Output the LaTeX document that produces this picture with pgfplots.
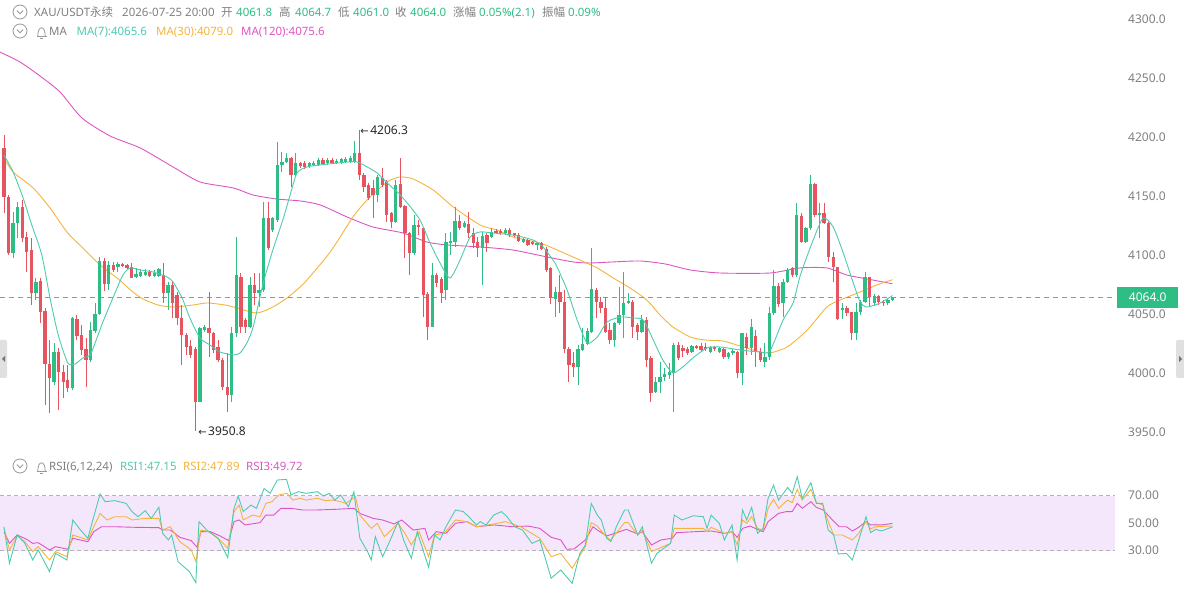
\documentclass[border=0pt]{standalone}
\usepackage{pgfplots}
\pgfplotsset{compat=1.18}
\usepackage{pgfplotstable}
\usepackage{fontspec}
\setmainfont{Noto Sans}
\newfontfamily\cjk{Noto Sans CJK SC}
\newfontfamily\dejavu{DejaVu Sans}
\definecolor{cgreen}{HTML}{2EBD85}
\definecolor{cred}{HTML}{E5545F}
\definecolor{ma7}{HTML}{4DCBB0}
\definecolor{ma30}{HTML}{F5B43A}
\definecolor{ma120}{HTML}{DE55C2}
\definecolor{txtgray}{HTML}{7F7F7F}
\definecolor{band}{HTML}{F4E7FB}
\definecolor{dashc}{HTML}{3FBF9A}
\newcommand{\hf}{\fontsize{11.5}{13}\selectfont}

\pgfplotstableread{
i o h l c
0 4191.0 4201.7 4135.3 4149.5
1 4149.5 4150.9 4100.0 4101.4
2 4101.4 4136.7 4097.2 4126.9
3 4126.9 4145.2 4114.2 4141.0
4 4141.0 4146.6 4111.3 4114.2
5 4115.6 4119.8 4085.9 4102.9
6 4104.3 4114.2 4057.7 4067.5
7 4067.5 4080.2 4061.9 4077.4
8 4078.0 4080.2 4042.1 4052.0
9 4052.6 4054.8 3972.9 4007.4
10 4007.4 4028.0 3965.8 3995.5
11 3992.7 4025.2 3989.9 4018.1
12 4018.1 4020.9 3968.7 4001.1
13 4001.1 4006.8 3978.6 3992.7
14 3994.1 4006.8 3984.2 3987.0
15 3987.0 4047.8 3985.6 4046.9
16 4045.8 4049.2 4028.0 4031.7
17 4032.2 4040.7 4015.3 4019.5
18 4020.4 4029.4 3988.4 4011.0
19 4011.0 4043.5 4009.6 4036.5
20 4035.6 4059.1 4033.6 4049.7
21 4049.7 4098.6 4049.2 4094.9
22 4094.9 4097.2 4069.5 4075.2
23 4075.2 4094.9 4070.4 4091.6
24 4091.6 4094.4 4085.9 4087.3
25 4090.1 4093.8 4085.9 4092.1
26 4092.1 4093.2 4090.1 4091.0
27 4091.6 4092.7 4088.2 4089.3
28 4090.1 4093.0 4080.2 4080.8
29 4081.7 4088.7 4080.8 4083.6
30 4082.5 4088.2 4081.7 4085.9
31 4083.1 4087.9 4082.5 4085.9
32 4085.9 4087.6 4081.7 4082.5
33 4082.5 4087.0 4081.7 4084.5
34 4082.5 4088.7 4081.7 4087.9
35 4083.1 4093.0 4059.1 4067.5
36 4067.5 4077.4 4053.4 4074.6
37 4074.6 4077.4 4046.4 4059.1
38 4066.1 4068.9 4040.7 4046.4
39 4046.4 4057.7 4006.8 4032.2
40 4032.2 4033.6 4015.3 4022.3
41 4023.2 4028.0 4012.5 4015.3
42 4020.4 4022.3 3950.8 3975.7
43 3975.7 4039.3 3975.1 4037.8
44 4036.4 4040.7 4035.0 4039.3
45 4037.8 4068.9 4013.8 4033.6
46 4033.6 4035.0 4016.6 4019.5
47 4022.3 4027.9 4009.6 4011.0
48 4011.0 4012.4 3985.6 3988.4
49 3988.4 4016.6 3967.2 3981.3
50 3981.3 4039.3 3975.7 4033.6
51 4033.6 4115.5 4030.8 4083.0
52 4081.6 4084.5 4033.6 4039.3
53 4044.9 4046.3 4033.6 4039.3
54 4039.3 4081.6 4037.8 4074.6
55 4074.6 4084.5 4057.6 4067.5
56 4067.5 4084.5 4056.2 4070.3
57 4070.3 4145.2 4068.9 4131.1
58 4131.1 4145.2 4104.2 4105.6
59 4121.2 4132.5 4119.8 4131.1
60 4129.7 4196.0 4128.3 4176.3
61 4176.3 4187.6 4170.6 4179.1
62 4179.1 4186.2 4177.7 4181.9
63 4181.9 4183.3 4157.9 4167.8
64 4167.8 4186.2 4166.4 4177.7
65 4177.7 4179.0 4174.0 4175.7
66 4177.7 4180.0 4173.0 4174.9
67 4175.7 4179.0 4174.0 4177.7
68 4176.3 4180.0 4175.0 4178.2
69 4176.3 4182.0 4175.0 4180.5
70 4180.5 4182.0 4176.0 4177.1
71 4177.7 4182.0 4176.0 4180.5
72 4180.5 4182.0 4177.0 4178.2
73 4178.2 4181.0 4177.0 4179.9
74 4178.2 4182.5 4177.0 4181.1
75 4179.1 4183.0 4178.0 4181.1
76 4179.1 4184.0 4178.0 4181.9
77 4179.1 4197.0 4178.0 4186.7
78 4186.7 4206.3 4163.6 4167.8
79 4167.8 4169.2 4153.7 4157.9
80 4159.3 4160.7 4146.6 4148.0
81 4156.5 4163.6 4131.1 4150.8
82 4150.8 4167.8 4145.2 4166.4
83 4165.0 4173.4 4157.9 4159.3
84 4162.1 4163.6 4128.3 4133.9
85 4135.3 4136.7 4122.6 4128.3
86 4128.3 4163.6 4126.8 4159.3
87 4160.2 4181.9 4139.5 4140.9
88 4141.5 4142.4 4097.2 4118.4
89 4118.4 4119.8 4083.0 4101.4
90 4101.4 4133.9 4100.0 4125.4
91 4125.4 4129.7 4116.9 4123.4
92 4122.6 4124.0 4047.7 4066.1
93 4066.9 4068.9 4028.0 4039.3
94 4039.3 4092.9 4038.7 4083.0
95 4083.0 4084.5 4073.1 4076.0
96 4079.4 4081.6 4059.0 4067.5
97 4070.3 4118.4 4061.9 4111.3
98 4109.9 4119.8 4100.0 4112.1
99 4111.3 4141.0 4107.1 4129.1
100 4129.1 4133.9 4121.2 4122.6
101 4124.0 4129.1 4122.6 4127.4
102 4126.3 4136.7 4114.1 4118.4
103 4118.4 4122.6 4105.6 4110.4
104 4111.3 4115.5 4098.6 4105.6
105 4105.6 4119.8 4074.6 4116.1
106 4116.9 4118.4 4102.8 4110.4
107 4115.5 4122.6 4114.1 4119.8
108 4120.6 4121.7 4117.8 4118.9
109 4120.3 4121.7 4117.2 4118.4
110 4118.4 4122.6 4117.2 4121.2
111 4121.2 4122.6 4115.5 4116.9
112 4118.4 4118.9 4115.0 4116.1
113 4116.9 4118.4 4111.3 4112.1
114 4111.3 4114.1 4109.9 4113.3
115 4112.7 4113.3 4107.6 4108.5
116 4110.7 4112.1 4108.2 4109.0
117 4108.5 4111.3 4104.2 4110.4
118 4109.9 4111.3 4104.2 4104.8
119 4104.8 4107.1 4085.9 4087.3
120 4088.7 4090.1 4058.5 4063.3
121 4062.4 4072.6 4047.7 4068.9
122 4068.9 4083.0 4050.6 4060.4
123 4060.4 4070.3 4016.6 4020.0
124 4020.0 4022.3 3992.6 4006.8
125 4008.2 4018.1 3996.9 4005.4
126 4005.4 4023.7 3989.8 4020.0
127 4019.5 4037.8 4018.9 4024.6
128 4024.6 4037.8 4023.7 4035.9
129 4035.0 4105.6 4033.6 4070.9
130 4070.3 4071.7 4046.3 4060.4
131 4060.4 4064.1 4050.6 4054.8
132 4054.8 4064.1 4033.6 4035.0
133 4036.4 4042.1 4024.6 4027.9
134 4027.9 4043.5 4022.3 4042.1
135 4042.1 4073.1 4040.7 4049.1
136 4049.1 4085.9 4029.4 4059.6
137 4059.0 4068.1 4058.5 4061.3
138 4060.4 4061.9 4029.4 4039.3
139 4040.7 4042.1 4027.9 4035.0
140 4035.0 4049.1 4033.6 4044.9
141 4044.9 4047.7 4005.4 4011.0
142 4012.4 4014.0 3975.7 3982.8
143 3984.2 3996.9 3982.8 3992.7
144 3992.7 4009.6 3982.8 3996.9
145 3996.9 4004.0 3993.0 3999.2
146 3998.3 4008.2 3995.0 4001.1
147 3999.7 4025.1 3967.2 4023.7
148 4023.7 4026.5 4011.0 4012.4
149 4020.9 4023.7 4013.8 4018.9
150 4020.1 4022.0 4015.0 4017.2
151 4018.1 4024.0 4017.0 4022.9
152 4022.9 4024.0 4020.0 4021.8
153 4022.9 4025.7 4018.1 4019.5
154 4022.3 4025.7 4019.0 4020.1
155 4018.1 4023.0 4017.0 4022.3
156 4022.3 4023.0 4019.0 4020.1
157 4018.0 4022.0 4017.0 4020.9
158 4020.1 4021.0 4012.0 4013.8
159 4013.8 4018.0 4012.0 4017.2
160 4016.6 4020.0 4015.0 4018.9
161 4018.1 4019.0 3995.5 3999.7
162 3999.7 4034.0 3989.9 4033.6
163 4030.8 4033.6 4015.3 4020.9
164 4020.9 4045.5 4015.3 4039.3
165 4031.4 4036.4 4005.4 4018.1
166 4018.1 4020.9 4009.6 4011.0
167 4009.6 4025.1 4005.4 4013.8
168 4013.8 4056.2 4011.0 4050.6
169 4050.6 4087.3 4049.2 4073.7
170 4073.7 4076.0 4056.0 4058.5
171 4059.0 4080.0 4047.7 4077.4
172 4077.4 4088.7 4076.0 4087.3
173 4088.7 4090.1 4081.6 4083.0
174 4083.0 4143.8 4081.6 4133.9
175 4133.0 4135.9 4109.9 4111.3
176 4111.3 4124.0 4109.9 4122.6
177 4122.6 4167.8 4121.2 4160.2
178 4160.2 4160.7 4132.5 4133.9
179 4133.9 4143.8 4114.1 4135.9
180 4135.9 4143.8 4126.0 4126.8
181 4126.8 4128.3 4094.3 4098.6
182 4098.6 4102.8 4077.4 4089.5
183 4089.5 4090.1 4044.9 4045.5
184 4053.4 4059.0 4046.0 4054.8
185 4054.8 4057.0 4048.0 4051.1
186 4051.9 4052.0 4027.9 4033.6
187 4033.6 4059.0 4027.9 4051.9
188 4051.9 4061.9 4049.1 4060.4
189 4060.4 4085.9 4059.0 4081.1
190 4081.1 4081.6 4056.2 4064.7
191 4059.0 4067.0 4057.0 4065.3
192 4065.3 4066.0 4058.0 4060.4
193 4060.4 4062.0 4057.0 4059.6
194 4059.0 4063.0 4058.0 4061.9
195 4061.8 4064.7 4061.0 4064.0
}\candles

\pgfplotstableread{
i v
0 4184.7
2.0 4170.3
4.2 4148.3
6.1 4125.4
8.3 4100.0
10.1 4063.5
11.9 4032.2
14.0 4008.5
15.6 4007.6
17.3 4012.7
18.9 4015.2
20.4 4029.6
21.7 4043.2
23.9 4063.5
26.1 4083.0
27.7 4089.0
29.9 4087.3
32.7 4085.6
35.8 4081.3
37.1 4077.1
39.1 4063.5
40.8 4046.6
43.0 4029.6
45.2 4023.7
47.4 4017.8
50.3 4015.2
51.8 4016.9
53.3 4025.4
54.7 4039.0
56.8 4074.6
59.0 4104.2
61.2 4129.7
62.8 4150.8
64.3 4169.5
66.5 4174.6
69.4 4176.3
75.3 4178.8
77.5 4178.8
79.7 4174.6
81.9 4169.5
84.1 4161.0
86.3 4153.4
88.5 4144.1
91.3 4129.7
93.5 4110.2
95.7 4093.2
97.9 4080.5
100.1 4095.7
102.3 4115.2
104.5 4119.5
107.3 4118.6
111.7 4116.9
116.1 4112.7
118.3 4106.8
120.5 4095.7
121.4 4089.8
123.6 4070.3
125.8 4044.9
128.0 4025.4
130.2 4030.5
132.4 4043.2
135.3 4047.4
138.1 4046.6
140.3 4044.9
142.5 4027.9
144.6 4011.0
146.8 4000.0
149.0 4005.1
151.2 4012.7
154.3 4021.2
157.2 4022.0
161.5 4019.5
165.9 4017.8
168.1 4018.6
171.0 4044.9
173.2 4059.3
174.8 4083.0
177.6 4112.7
179.8 4131.3
182.0 4123.7
184.2 4101.7
186.4 4076.3
187.9 4060.2
189.4 4055.9
192.3 4059.3
195.0 4065.6
}\maseven

\pgfplotstableread{
i v
0 4182.2
2.0 4170.3
6.4 4156.8
10.1 4139.8
13.8 4119.5
17.3 4105.9
21.1 4091.5
24.8 4080.5
28.3 4068.6
30.5 4062.7
33.8 4057.6
37.1 4055.9
41.5 4057.6
44.6 4059.3
48.5 4057.6
51.1 4055.1
55.5 4050.8
59.0 4055.9
62.1 4063.5
65.0 4072.9
66.5 4078.8
71.6 4102.5
76.6 4132.2
79.7 4146.6
84.1 4161.9
86.9 4166.1
89.8 4164.4
94.2 4155.1
98.6 4140.7
104.5 4125.4
108.2 4121.2
111.7 4115.2
117.6 4110.2
121.4 4104.2
126.4 4095.7
130.2 4089.0
133.7 4080.5
137.4 4072.0
141.1 4061.8
144.0 4049.1
146.8 4039.0
150.6 4030.5
153.9 4027.9
157.8 4027.1
161.5 4022.9
165.9 4017.8
168.1 4016.9
171.9 4022.0
176.3 4036.4
180.6 4055.9
183.5 4061.8
187.9 4068.6
191.6 4074.6
195.0 4079.0
}\mathirty

\pgfplotstableread{
i v
-0.9 4272.0
3.5 4263.6
7.9 4251.7
12.3 4238.1
17.1 4216.1
23.3 4200.8
29.9 4190.7
37.1 4174.6
43.0 4161.9
50.3 4156.8
54.7 4150.8
59.9 4147.4
65.0 4145.8
69.4 4142.4
75.3 4132.2
81.0 4123.7
87.6 4118.6
92.8 4111.0
97.2 4108.5
104.5 4106.8
111.7 4104.2
119.2 4098.3
124.9 4094.1
128.6 4093.2
133.7 4094.1
139.6 4094.9
145.1 4092.4
150.6 4087.3
157.2 4084.7
168.1 4084.7
174.7 4089.0
180.6 4089.0
185.0 4083.0
189.4 4079.7
195.0 4075.6
}\maonetwenty

\pgfplotstableread{
i v
0 47.3
1.2 20.7
2.9 41.3
4.6 35.2
6.3 23.1
7.5 30.4
10.0 14.6
11.3 27.9
13.8 23.1
15.1 52.2
16.8 44.9
18.4 38.9
19.7 54.6
21.1 71.1
22.2 65.5
24.3 66.3
26.8 64.3
28.1 58.3
29.4 54.6
31.0 59.0
32.3 53.4
34.0 61.4
34.8 42.5
36.1 37.7
36.8 41.3
38.2 21.9
40.7 14.6
42.1 6.6
42.8 51.0
44.5 44.9
47.0 38.9
49.1 24.8
50.4 59.5
51.4 69.6
52.5 58.3
54.2 63.1
55.4 60.7
57.1 75.2
58.4 71.6
60.0 81.3
62.0 81.8
63.0 70.4
64.6 72.8
66.3 71.6
68.8 72.8
70.1 69.6
71.4 71.6
72.6 66.7
73.9 70.4
75.6 61.9
76.8 72.8
78.1 38.9
79.8 29.2
80.6 23.1
81.5 40.1
83.1 25.5
84.8 37.7
86.5 51.0
87.7 37.7
89.4 24.3
90.7 43.7
91.5 35.2
93.2 17.8
94.5 41.3
95.7 37.7
97.0 47.3
99.1 59.5
100.8 58.3
102.0 54.6
103.7 48.6
104.5 51.0
105.8 48.6
107.5 55.8
109.2 58.3
110.4 54.6
112.1 47.3
113.8 44.9
115.9 35.2
117.6 37.7
120.1 9.8
122.2 15.8
124.7 6.1
126.4 27.9
127.6 34.0
128.9 64.3
130.2 55.8
131.1 52.2
132.3 38.9
133.2 36.5
134.4 47.3
136.2 59.5
137.0 59.5
139.1 41.3
140.1 47.3
142.1 20.7
143.3 27.9
146.3 35.2
147.1 55.8
148.8 52.2
151.3 55.3
153.5 54.6
154.3 46.1
155.2 55.8
157.0 49.8
158.1 37.7
159.8 48.6
160.9 23.1
162.1 59.5
163.0 52.2
164.1 61.4
165.4 42.5
166.6 46.1
167.7 67.9
168.9 77.6
170.0 66.7
172.0 75.9
173.0 71.6
174.1 83.7
175.2 67.9
177.1 79.4
178.3 64.3
179.7 64.3
180.9 44.9
182.1 41.3
183.1 27.5
184.9 27.9
186.2 23.1
187.6 37.7
189.2 54.6
190.2 43.0
191.3 45.4
192.6 44.2
195.0 47.2
}\rsione

\pgfplotstableread{
i v
0 46.1
1.2 30.4
2.9 40.6
4.6 36.4
6.3 29.2
7.5 32.8
10.0 23.1
11.3 29.2
13.8 25.5
15.1 41.3
18.4 37.7
19.7 47.3
21.1 57.0
22.6 52.2
24.3 54.6
26.8 54.6
28.1 52.2
31.0 53.4
34.0 53.4
34.8 44.9
36.5 47.3
38.6 36.4
41.1 30.4
42.1 21.9
43.2 44.9
44.9 43.7
47.4 37.7
49.1 31.6
50.5 58.3
51.6 63.1
52.5 52.2
54.6 55.8
56.2 54.6
57.5 64.3
58.8 65.5
60.3 70.4
62.1 71.6
63.4 66.7
65.1 68.0
66.3 66.7
68.8 68.0
70.5 66.3
72.2 66.7
73.9 65.5
75.1 64.3
77.1 69.2
78.1 55.8
80.6 46.1
81.9 49.8
83.5 40.1
86.5 49.8
88.2 41.3
89.4 34.0
91.1 43.7
93.2 25.5
94.5 41.3
96.6 42.5
99.1 52.2
101.6 51.0
103.7 47.3
107.5 49.3
110.0 51.0
113.4 47.3
117.6 38.9
120.1 25.5
122.2 27.9
124.7 17.1
127.6 32.8
128.9 50.3
130.2 47.8
132.3 39.6
133.2 37.7
136.2 50.3
137.0 50.3
139.1 41.3
140.1 44.9
142.1 29.2
146.3 35.2
147.1 46.1
150.9 46.1
153.5 46.1
154.3 43.7
155.2 46.9
158.1 42.5
159.8 43.7
160.9 34.0
162.1 52.2
163.0 49.8
164.1 54.6
165.4 46.1
166.6 44.9
167.7 60.7
168.9 67.2
170.0 60.7
172.0 66.7
173.0 64.8
174.1 74.5
175.2 66.7
177.1 74.5
178.3 64.8
179.7 63.1
180.9 51.0
182.1 41.3
184.0 41.3
186.2 37.7
187.6 42.5
189.2 51.0
190.2 45.7
191.3 47.3
195.0 47.9
}\rsitwo

\pgfplotstableread{
i v
0 43.7
1.2 35.2
2.9 41.3
5.0 38.1
6.3 35.2
7.5 35.7
10.0 30.4
11.3 32.8
14.0 30.9
15.1 38.9
18.4 36.4
19.7 43.7
21.4 47.3
24.3 47.3
28.5 46.9
34.0 46.6
34.8 44.9
36.5 44.9
38.6 39.6
41.1 37.2
42.4 32.3
43.2 43.7
45.3 43.7
47.4 40.6
49.3 37.2
50.5 51.0
51.6 52.2
52.9 48.6
56.2 50.3
57.5 55.8
59.2 55.8
60.8 60.7
63.0 60.7
65.5 59.5
68.8 59.5
73.0 60.0
76.8 60.7
78.1 57.0
81.0 53.4
83.1 52.2
85.6 49.3
87.3 52.2
89.8 44.9
92.4 46.1
93.2 37.7
94.9 43.7
97.0 42.5
99.1 49.8
101.6 51.0
103.7 47.3
107.5 48.6
111.7 47.3
115.0 47.8
117.6 46.1
120.1 39.6
122.2 37.7
123.5 30.9
125.1 31.1
127.6 37.7
129.3 47.3
130.2 44.9
132.3 40.6
133.6 42.0
136.6 45.4
139.1 42.0
140.1 43.7
142.1 34.0
144.2 37.7
146.7 38.9
147.6 43.0
151.8 43.7
155.2 44.2
158.1 42.5
159.8 43.7
160.9 39.6
162.1 46.1
163.7 47.8
166.6 43.7
167.7 51.0
170.0 57.0
171.7 58.3
173.0 58.3
174.1 64.3
175.2 60.7
177.1 65.5
178.3 61.4
179.8 59.5
181.5 53.4
183.3 47.3
184.9 47.3
186.2 44.2
187.6 46.9
189.2 51.0
190.2 48.6
192.6 48.6
195.0 49.7
}\rsithree

\pgfplotsset{
  chartbase/.style={
    scale only axis, width=1115pt,
    xmin=-0.878, xmax=243.85,
    axis line style={draw=none}, xtick=\empty,
    major tick length=0pt, yticklabel pos=right,
    clip=false,
    yticklabel style={anchor=west, inner sep=0pt, xshift=13pt,
      font=\fontsize{12}{14}\selectfont, text=txtgray,
      /pgf/number format/fixed, /pgf/number format/fixed zerofill,
      /pgf/number format/1000 sep={}, /pgf/number format/assume math mode=true},
  },
  wick/.style={only marks, mark=text, text mark={}, forget plot,
    mark options={draw=none, fill=none, inner sep=0pt},
    /pgfplots/error bars/y dir=both, /pgfplots/error bars/y explicit,
    /pgfplots/error bars/error mark=none,
    /pgfplots/error bars/error bar style={line width=1pt, draw=#1, solid}},
  body/.style={only marks, mark=text, text mark={}, forget plot,
    mark options={draw=none, fill=none, inner sep=0pt},
    /pgfplots/error bars/y dir=both, /pgfplots/error bars/y explicit,
    /pgfplots/error bars/error mark=none,
    /pgfplots/error bars/error bar style={line width=3.3pt, draw=#1, solid}},
}

\begin{document}
\begin{tikzpicture}
% ---------- main price panel ----------
\begin{axis}[chartbase, at={(0pt,142pt)}, anchor=south west, height=450pt,
  ymin=3934.7, ymax=4316.1, ytick={3950,4000,4050,4100,4150,4200,4250,4300},
  yticklabel style={/pgf/number format/precision=1}]
  \addplot[ma120, line width=0.9pt, smooth, tension=0.4] table[x=i,y=v]{\maonetwenty};
  \addplot[ma30, line width=0.9pt, smooth, tension=0.4] table[x=i,y=v]{\mathirty};
  % last price line
  \addplot[draw=dashc, line width=1pt, dash pattern=on 5pt off 4pt] coordinates {(-0.878,4064) (243.85,4064)};
  % wicks
  \addplot[restrict expr to domain={\thisrow{c}-\thisrow{o}}{0:10000}, wick=cgreen]
    table[x=i, y expr=(\thisrow{h}+\thisrow{l})/2, y error expr=(\thisrow{h}-\thisrow{l})/2]{\candles};
  \addplot[restrict expr to domain={\thisrow{c}-\thisrow{o}}{-10000:-0.001}, wick=cred]
    table[x=i, y expr=(\thisrow{h}+\thisrow{l})/2, y error expr=(\thisrow{h}-\thisrow{l})/2]{\candles};
  % bodies
  \addplot[restrict expr to domain={\thisrow{c}-\thisrow{o}}{0:10000}, body=cgreen]
    table[x=i, y expr=(\thisrow{o}+\thisrow{c})/2, y error expr={max(abs(\thisrow{c}-\thisrow{o})/2,0.5)}]{\candles};
  \addplot[restrict expr to domain={\thisrow{c}-\thisrow{o}}{-10000:-0.001}, body=cred]
    table[x=i, y expr=(\thisrow{o}+\thisrow{c})/2, y error expr={max(abs(\thisrow{c}-\thisrow{o})/2,0.5)}]{\candles};
  \addplot[ma7, line width=0.9pt, smooth, tension=0.4] table[x=i,y=v]{\maseven};
  \node[fill=cgreen, text=white, anchor=west, minimum height=21pt, minimum width=61pt, inner sep=0pt,
        font=\fontsize{12}{14}\selectfont\bfseries, xshift=2pt] at (axis cs:243.85,4064) {4064.0};
  % extreme labels
  \node[anchor=west, inner sep=0pt, font=\fontsize{12}{14}\selectfont, text=black!85] at (axis cs:78.2,4205.9)
    {{\dejavu\fontsize{10}{11}\selectfont ←}\hspace{1.5pt}4206.3};
  \node[anchor=west, inner sep=0pt, font=\fontsize{12}{14}\selectfont, text=black!85] at (axis cs:42.6,3950.6)
    {{\dejavu\fontsize{10}{11}\selectfont ←}\hspace{1.5pt}3950.8};
\end{axis}

% ---------- RSI panel ----------
\begin{axis}[chartbase, at={(0pt,0pt)}, anchor=south west, height=137pt,
  ymin=-0.2, ymax=99.5, ytick={30,50,70},
  yticklabel style={/pgf/number format/precision=2}]
  \fill[band] (axis cs:-0.878,30) rectangle (axis cs:243.85,70);
  \draw[black!30, line width=0.8pt, dash pattern=on 4pt off 3pt] (axis cs:-0.878,70) -- (axis cs:243.85,70);
  \draw[black!30, line width=0.8pt, dash pattern=on 4pt off 3pt] (axis cs:-0.878,30) -- (axis cs:243.85,30);
  \addplot[ma120, line width=0.9pt] table[x=i,y=v]{\rsithree};
  \addplot[ma30, line width=0.9pt] table[x=i,y=v]{\rsitwo};
  \addplot[ma7, line width=0.9pt] table[x=i,y=v]{\rsione};
\end{axis}

% ---------- header texts ----------
\begin{scope}[every node/.style={anchor=base west, inner sep=0pt, font=\hf}]
  \draw[txtgray!80, line width=0.8pt] (20pt,580pt) circle (7pt);
  \draw[txtgray!80, line width=0.8pt] (16.8pt,581.5pt) -- (20pt,578.3pt) -- (23.2pt,581.5pt);
  \node[text=txtgray] at (34pt,575.8pt) {XAU/USDT{\cjk 永续}};
  \node[text=txtgray] at (122pt,575.8pt) {2026-07-25 20:00};
  \node[text=txtgray] at (221pt,575.8pt) {\cjk 开};
  \node[text=cgreen] at (236pt,575.8pt) {4061.8};
  \node[text=txtgray] at (279pt,575.8pt) {\cjk 高};
  \node[text=cgreen] at (295pt,575.8pt) {4064.7};
  \node[text=txtgray] at (338pt,575.8pt) {\cjk 低};
  \node[text=cgreen] at (353pt,575.8pt) {4061.0};
  \node[text=txtgray] at (395pt,575.8pt) {\cjk 收};
  \node[text=cgreen] at (410pt,575.8pt) {4064.0};
  \node[text=txtgray] at (453pt,575.8pt) {\cjk 涨幅};
  \node[text=cgreen] at (479pt,575.8pt) {0.05\%(2.1)};
  \node[text=txtgray] at (542pt,575.8pt) {\cjk 振幅};
  \node[text=cgreen] at (568pt,575.8pt) {0.09\%};
  \draw[txtgray!80, line width=0.8pt] (20pt,561pt) circle (7pt);
  \draw[txtgray!80, line width=0.8pt] (16.8pt,562.5pt) -- (20pt,559.3pt) -- (23.2pt,562.5pt);
  \draw[txtgray!80, line width=0.8pt] (36.5pt,556pt) -- (46.5pt,556pt);
  \draw[txtgray!80, line width=0.8pt] (37.8pt,556pt) .. controls (37.8pt,567pt) and (45.2pt,567pt) .. (45.2pt,556pt);
  \draw[txtgray!80, line width=0.8pt] (40pt,554pt) -- (43pt,554pt);
  \node[text=txtgray] at (49pt,556.9pt) {MA};
  \node[text=ma7] at (76.5pt,556.9pt) {MA(7):4065.6};
  \node[text=ma30] at (156pt,556.9pt) {MA(30):4079.0};
  \node[text=ma120] at (241pt,556.9pt) {MA(120):4075.6};
  \draw[txtgray!80, line width=0.8pt] (20pt,126pt) circle (7pt);
  \draw[txtgray!80, line width=0.8pt] (16.8pt,127.5pt) -- (20pt,124.3pt) -- (23.2pt,127.5pt);
  \draw[txtgray!80, line width=0.8pt] (36.5pt,121pt) -- (46.5pt,121pt);
  \draw[txtgray!80, line width=0.8pt] (37.8pt,121pt) .. controls (37.8pt,132pt) and (45.2pt,132pt) .. (45.2pt,121pt);
  \draw[txtgray!80, line width=0.8pt] (40pt,119pt) -- (43pt,119pt);
  \node[text=txtgray] at (49pt,121.9pt) {RSI(6,12,24)};
  \node[text=ma7] at (120pt,121.9pt) {RSI1:47.15};
  \node[text=ma30] at (183pt,121.9pt) {RSI2:47.89};
  \node[text=ma120] at (246pt,121.9pt) {RSI3:49.72};
\end{scope}

\fill[black!12, rounded corners=2pt] (-3pt,214pt) rectangle (7pt,252pt);
\fill[black!55] (2pt,233pt) -- (5pt,236pt) -- (5pt,230pt) -- cycle;
\fill[black!12, rounded corners=2pt] (1176pt,214pt) rectangle (1187pt,252pt);
\fill[black!55] (1182pt,233pt) -- (1179pt,236pt) -- (1179pt,230pt) -- cycle;

\pgfresetboundingbox
\path[use as bounding box] (0pt,0pt) rectangle (1184pt,592pt);
\end{tikzpicture}
\end{document}
